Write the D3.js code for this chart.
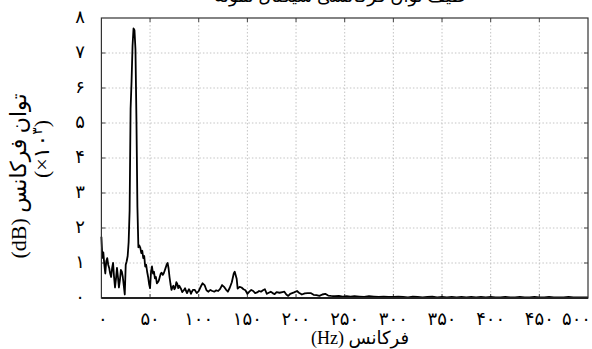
<!doctype html>
<html>
<head>
  <meta charset="utf-8">
  <title>طیف توان</title>
  <style>
  body{
    margin: 0;
    background: #fff;
    font-family: "Liberation Serif", "DejaVu Sans", serif;
  }
  .grid line{
    stroke: #c4c4c4;
    stroke-width: 1;
    stroke-dasharray: 1.5,2;
  }
  .lbl{
    font-size: 18px;
    fill: #000;
  }
  .big{
    font-size: 22px;
  }
  .rtl{
    direction: rtl;
    unicode-bidi: embed;
  }
  </style>
</head>
<body>
  <svg></svg>
  <script src="https://d3js.org/d3.v7.min.js"></script>
  <script>
  var width = 592;
  var height = 349;
  var margin = { left: 101.4, right: 4, top: 18, bottom: 51 };

  // frequency (Hz) and power (x1000 dB)
  var freqs = [0,1,2,3,4,5,6,7,8,9,10,11,12,13,14,15,16,17,18,19,20,21,22,23,24,25,26,27,28,29,
    30,31,32,33,34,35,36,37,38,39,40,41,42,43,44,45,46,47,48,49,50,51,52,53,54,55,56,57,58,59,
    60,61,62,63,64,65,66,67,68,69,70,71,72,73,74,75,76,77,78,79,80,81,82,83,84,85,86,87,88,89,
    90,91,92,93,94,96,98,100,102,104,106,108,110,112,114,116,118,120,122,124,126,128,130,132,134,136,137,139,
    140,142,144,146,148,150,152,154,156,158,160,162,164,166,168,170,172,174,176,178,180,183,186,188,
    190,192,194,196,198,201,203,206,209,212,215,218,221,224,227,230,233,236,240,244,248,252,256,260,
    265,270,275,280,285,290,295,300,305,310,315,320,325,330,335,340,345,350,355,360,365,370,375,380,
    385,390,395,400,405,410,415,420,425,430,435,440,445,450,455,460,465,470,475,480,485,490,495,500];
  var power = [1.75,1.15,1.3,0.95,0.7,1.05,1.14,0.95,0.86,0.7,0.6,0.85,1.0,0.6,0.3,0.55,0.86,0.6,0.3,0.5,
    0.8,0.75,0.6,0.35,0.1,0.95,1.05,1.2,1.6,2.5,
    5.4,6.2,7.2,7.7,7.65,7.1,5.1,2.6,1.45,1.5,1.43,1.28,1.35,1.14,1.2,0.9,0.95,0.75,0.6,0.4,
    0.28,0.75,0.9,0.7,0.75,0.56,0.6,0.42,0.45,0.5,
    0.6,0.7,0.72,0.66,0.7,0.78,0.86,0.95,1.0,0.85,0.6,0.4,0.23,0.3,0.35,0.25,0.3,0.45,0.4,0.28,
    0.35,0.3,0.25,0.17,0.2,0.23,0.28,0.2,0.14,0.2,
    0.25,0.2,0.12,0.18,0.23,0.23,0.14,0.2,0.32,0.42,0.37,0.22,0.18,0.23,0.2,0.18,0.22,0.2,0.26,0.37,
    0.32,0.24,0.18,0.3,0.45,0.7,0.75,0.55,
    0.27,0.32,0.3,0.25,0.22,0.12,0.18,0.23,0.2,0.14,0.16,0.2,0.18,0.22,0.25,0.12,0.15,0.18,0.14,0.11,
    0.17,0.15,0.17,0.18,
    0.1,0.06,0.12,0.14,0.16,0.2,0.15,0.1,0.13,0.14,0.14,0.09,0.08,0.06,0.1,0.12,0.07,0.06,0.05,0.06,
    0.04,0.05,0.04,0.05,
    0.04,0.03,0.05,0.04,0.03,0.04,0.03,0.03,0.04,0.03,0.02,0.04,0.03,0.02,0.03,0.04,0.02,0.03,0.02,0.03,
    0.02,0.03,0.02,0.03,
    0.02,0.03,0.02,0.03,0.02,0.02,0.03,0.02,0.02,0.03,0.02,0.02,0.03,0.02,0.02,0.03,0.02,0.02,0.02,0.03,
    0.02,0.02,0.02,0.02];

  var xTicks = [0,50,100,150,200,250,300,350,400,450,500];
  var xTickLabels = ['۰','۵۰','۱۰۰','۱۵۰','۲۰۰','۲۵۰','۳۰۰','۳۵۰','۴۰۰','۴۵۰','۵۰۰'];
  var yTicks = [0,1,2,3,4,5,6,7,8];
  var yTickLabels = ['۰','۱','۲','۳','۴','۵','۶','۷','۸'];

  var svg = d3.select('svg')
    .attr('width', width)
    .attr('height', height);

  var x = d3.scaleLinear().domain([0, 500]).range([margin.left, width - margin.right]);
  var y = d3.scaleLinear().domain([0, 8]).range([height - margin.bottom, margin.top]);

  var x0 = x.range()[0], x1 = x.range()[1];
  var y0 = y.range()[0], y1 = y.range()[1];

  // grid
  var grid = svg.append('g').attr('class', 'grid');
  grid.selectAll('.vg').data(xTicks.slice(1, -1)).enter().append('line')
    .attr('x1', function(d){ return x(d); }).attr('x2', function(d){ return x(d); })
    .attr('y1', y1).attr('y2', y0);
  grid.selectAll('.hg').data(yTicks.slice(1, -1)).enter().append('line')
    .attr('x1', x0).attr('x2', x1)
    .attr('y1', function(d){ return y(d); }).attr('y2', function(d){ return y(d); });

  // inner ticks
  var tk = svg.append('g').attr('stroke', '#444').attr('stroke-width', 1);
  xTicks.slice(1, -1).forEach(function(d){
    tk.append('line').attr('x1', x(d)).attr('x2', x(d)).attr('y1', y1).attr('y2', y1 + 4);
    tk.append('line').attr('x1', x(d)).attr('x2', x(d)).attr('y1', y0).attr('y2', y0 - 4);
  });
  yTicks.slice(1, -1).forEach(function(d){
    tk.append('line').attr('x1', x0).attr('x2', x0 + 4).attr('y1', y(d)).attr('y2', y(d));
    tk.append('line').attr('x1', x1).attr('x2', x1 - 4).attr('y1', y(d)).attr('y2', y(d));
  });

  // spectrum
  var pts = freqs.map(function(f, i){ return [f, power[i]]; });
  svg.append('path')
    .datum(pts)
    .attr('fill', 'none')
    .attr('stroke', '#000')
    .attr('stroke-width', 1.8)
    .attr('stroke-linejoin', 'round')
    .attr('d', d3.line().x(function(d){ return x(d[0]); }).y(function(d){ return y(d[1]); }));

  // frame
  svg.append('rect')
    .attr('x', x0).attr('y', y1)
    .attr('width', x1 - x0).attr('height', y0 - y1)
    .attr('fill', 'none').attr('stroke', '#333').attr('stroke-width', 1.2);
  svg.append('line').attr('x1', x0).attr('x2', x1).attr('y1', y0).attr('y2', y0)
    .attr('stroke', '#222').attr('stroke-width', 2);

  // tick labels
  svg.selectAll('.xl').data(xTicks).enter().append('text')
    .attr('class', 'lbl')
    .attr('x', function(d){ return d === 0 ? x(d) + 1.5 : (d === 500 ? 591 : x(d)); })
    .attr('y', 325)
    .attr('text-anchor', function(d){ return d === 500 ? 'end' : 'middle'; })
    .text(function(d, i){ return xTickLabels[i]; });
  svg.selectAll('.yl').data(yTicks).enter().append('text')
    .attr('class', 'lbl')
    .attr('x', 80)
    .attr('y', function(d){ return y(d) + 5; })
    .attr('text-anchor', 'middle')
    .text(function(d, i){ return yTickLabels[i]; });

  // axis titles
  svg.append('text').attr('class', 'lbl rtl')
    .attr('x', 360).attr('y', 344)
    .attr('text-anchor', 'middle')
    .text('فرکانس (Hz)');
  svg.append('text').attr('class', 'lbl big rtl')
    .attr('transform', 'translate(26,176) rotate(-90)')
    .attr('text-anchor', 'middle')
    .text('توان فرکانس (dB)');
  svg.append('text').attr('class', 'lbl big')
    .attr('transform', 'translate(49,149) rotate(-90)')
    .attr('text-anchor', 'middle')
    .html('(×۱۰<tspan dy="-7" font-size="14">۳</tspan><tspan dy="7">)</tspan>');

  // title, mostly outside the window at top (as in the reference)
  svg.append('text').attr('class', 'lbl rtl')
    .attr('x', 340).attr('y', 2)
    .attr('text-anchor', 'middle')
    .text('طیف توان فرکانسی سیگنال نمونه');
  </script>
</body>
</html>
